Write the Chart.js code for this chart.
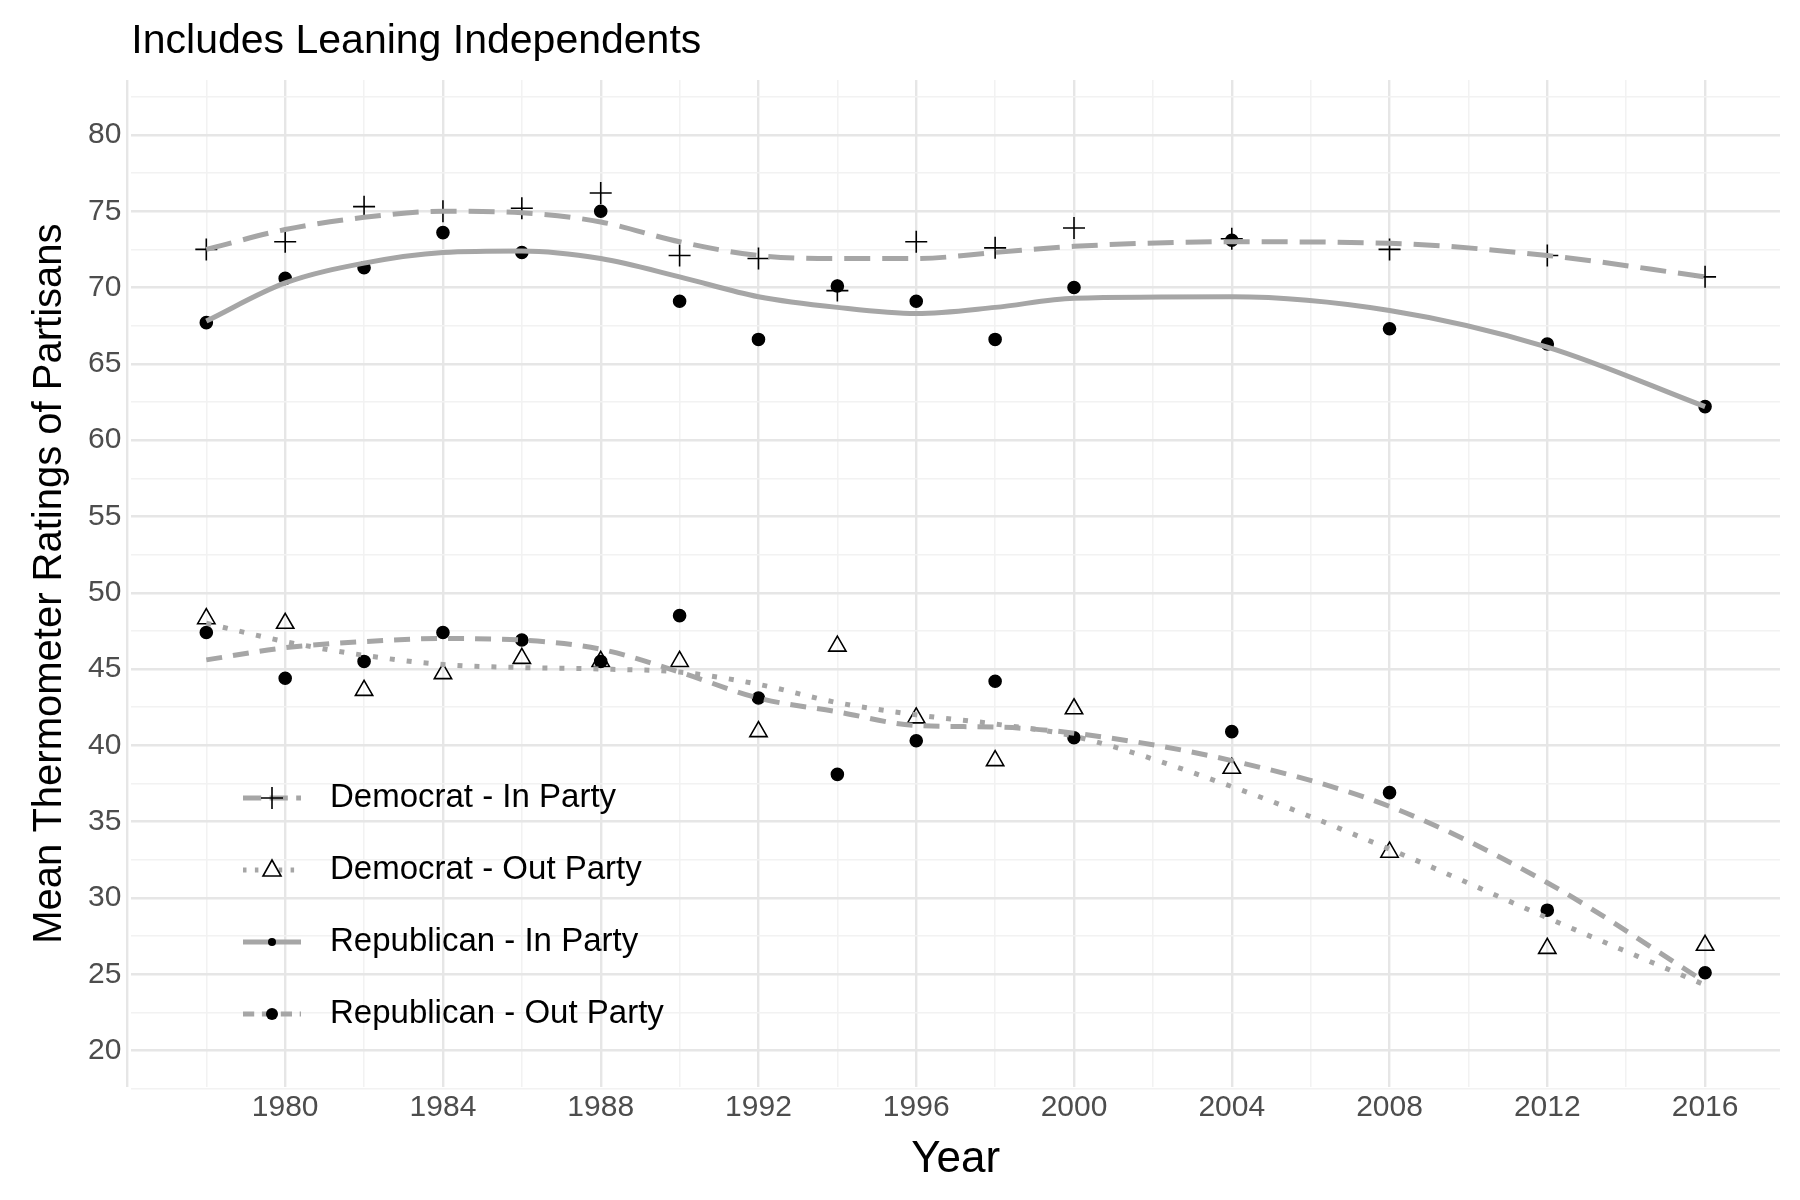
<!DOCTYPE html>
<html><head><meta charset="utf-8">
<script src="https://cdn.jsdelivr.net/npm/chart.js@4"></script>
<style>body{margin:0;background:#fff}#wrap{width:1800px;height:1200px}</style>
</head><body><div id="wrap"><canvas id="c"></canvas></div>
<script>
const years = [1978,1980,1982,1984,1986,1988,1990,1992,1994,1996,1998,2000,2004,2008,2012,2016];
// observed means
const demIn  = [72.5,73,75.3,75,75.2,76.2,72.1,71.9,69.8,73,72.6,73.9,73.2,72.5,72.1,70.7];
const repIn  = [67.7,70.6,71.3,73.6,72.3,75,69.1,66.6,70.1,69.1,66.6,70,73.1,67.3,66.3,62.2];
const demOut = [48.3,48,43.6,44.7,45.7,45.5,45.5,40.9,46.5,41.8,39,42.4,38.5,33,26.7,26.9];
const repOut = [47.4,44.4,45.5,47.4,46.9,45.5,48.5,43.1,38.1,40.3,44.2,40.5,40.9,36.9,29.2,25.1];
// smoothed fits
const demInFit  = [72.5,73.8,74.6,75,74.9,74.3,73,72.1,71.9,71.9,72.3,72.7,73,72.9,72.1,70.7];
const repInFit  = [67.8,70.3,71.6,72.3,72.4,71.9,70.7,69.4,68.7,68.3,68.7,69.3,69.4,68.5,66.1,62.2];
const demOutFit = [48,46.8,45.9,45.3,45.1,45,44.8,44,42.8,42,41.4,40.6,37.3,33.2,28.7,24.3];
const repOutFit = [45.6,46.4,46.8,47,46.9,46.3,44.8,43.1,42.2,41.3,41.2,40.8,39,36,31,24.5];
const legendLabels = ['Democrat - In Party','Democrat - Out Party','Republican - In Party','Republican - Out Party'];
const titleText = 'Includes Leaning Independents';

const GREY = '#a6a6a6';
const FONT = '"Liberation Sans", Arial, sans-serif';
const dashes = [[26,12],[5,12],[],[16,11]];
const marks = ['cross','triangle','circle','circle'];
const markSize = [11,10,6,6];
const pts = (arr) => arr.map((v,i) => ({x: years[i], y: v}));

const fits = [demInFit, demOutFit, repInFit, repOutFit].map((d,i) => ({
  type:'line', data: pts(d), borderColor: GREY, borderWidth: 5, borderDash: dashes[i],
  pointRadius: 0, tension: 0.4, cubicInterpolationMode: 'monotone', fill: false
}));
const obs = [demIn, demOut, repIn, repOut].map((d,i) => ({
  type:'scatter', data: pts(d), pointStyle: marks[i], pointRadius: markSize[i],
  borderColor: '#000', borderWidth: 1.6,
  backgroundColor: i === 1 ? 'rgba(0,0,0,0)' : '#000'
}));

const legendPlugin = {
  id: 'insideLegend',
  afterDraw(chart) {
    const ctx = chart.ctx;
    // title aligned with the plot panel
    ctx.save();
    ctx.fillStyle = '#000'; ctx.font = '41px ' + FONT; ctx.textBaseline = 'middle';
    ctx.fillText(titleText, chart.chartArea.left, 42);
    ctx.restore();
    const x0 = 243, x1 = 301, tx = 330;
    legendLabels.forEach((lab, i) => {
      const y = 798 + i * 72;
      ctx.save();
      ctx.strokeStyle = GREY; ctx.lineWidth = 5; ctx.setLineDash(dashes[i].map(v => v * 0.7));
      ctx.beginPath(); ctx.moveTo(x0, y); ctx.lineTo(x1, y); ctx.stroke();
      ctx.setLineDash([]);
      const cx = (x0 + x1) / 2;
      ctx.strokeStyle = '#000'; ctx.fillStyle = '#000'; ctx.lineWidth = 1.6;
      if (i === 0) {
        ctx.beginPath(); ctx.moveTo(cx-11,y); ctx.lineTo(cx+11,y); ctx.moveTo(cx,y-11); ctx.lineTo(cx,y+11); ctx.stroke();
      } else if (i === 1) {
        ctx.fillStyle = '#fff';
        ctx.beginPath(); ctx.moveTo(cx,y-10); ctx.lineTo(cx+9,y+6); ctx.lineTo(cx-9,y+6); ctx.closePath(); ctx.fill(); ctx.stroke();
      } else {
        ctx.beginPath(); ctx.arc(cx, y, i === 2 ? 4 : 6, 0, Math.PI*2); ctx.fill();
      }
      ctx.fillStyle = '#000'; ctx.font = '33px ' + FONT;
      ctx.textBaseline = 'middle'; ctx.fillText(lab, tx, y);
      ctx.restore();
    });
  }
};

new Chart(document.getElementById('c'), {
  data: { datasets: [...fits, ...obs] },
  plugins: [legendPlugin],
  options: {
    responsive: true, maintainAspectRatio: false, animation: false,
    layout: { padding: { left: 22, right: 20, top: 80, bottom: 10 } },
    plugins: { legend: { display: false }, tooltip: { enabled: false }, title: { display: false } },
    scales: {
      x: { type: 'linear', min: 1976.1, max: 2017.9,
        afterBuildTicks: (ax) => { const t = []; for (let v = 1976; v <= 2016; v += 2) t.push({value: v}); ax.ticks = t; },
        ticks: { color: '#4d4d4d', font: { size: 30, family: FONT },
          callback: (v) => ((v - 1980) % 4 === 0 && v >= 1980) ? String(v) : '', maxRotation: 0, autoSkip: false },
        grid: { color: (c) => ((c.tick.value - 1980) % 4 === 0) ? '#e6e6e6' : '#f2f2f2', lineWidth: (c) => ((c.tick.value - 1980) % 4 === 0) ? 2.4 : 1.5, drawTicks: false },
        border: { display: false },
        title: { display: true, text: 'Year', color: '#000', font: { size: 44, family: FONT }, padding: { top: 4 } }
      },
      y: { min: 17.6, max: 83.6,
        afterBuildTicks: (ax) => { const t = []; for (let v = 17.5; v <= 82.5; v += 2.5) t.push({value: v}); ax.ticks = t; },
        ticks: { color: '#4d4d4d', font: { size: 30, family: FONT },
          callback: (v) => (v % 5 === 0) ? String(v) : '', autoSkip: false, padding: 10 },
        grid: { color: (c) => (c.tick.value % 5 === 0) ? '#e6e6e6' : '#f2f2f2', lineWidth: (c) => (c.tick.value % 5 === 0) ? 2.4 : 1.5, drawTicks: false },
        border: { display: false },
        title: { display: true, text: 'Mean Thermometer Ratings of Partisans', color: '#000', font: { size: 40, family: FONT } }
      }
    }
  }
});
</script></body></html>
